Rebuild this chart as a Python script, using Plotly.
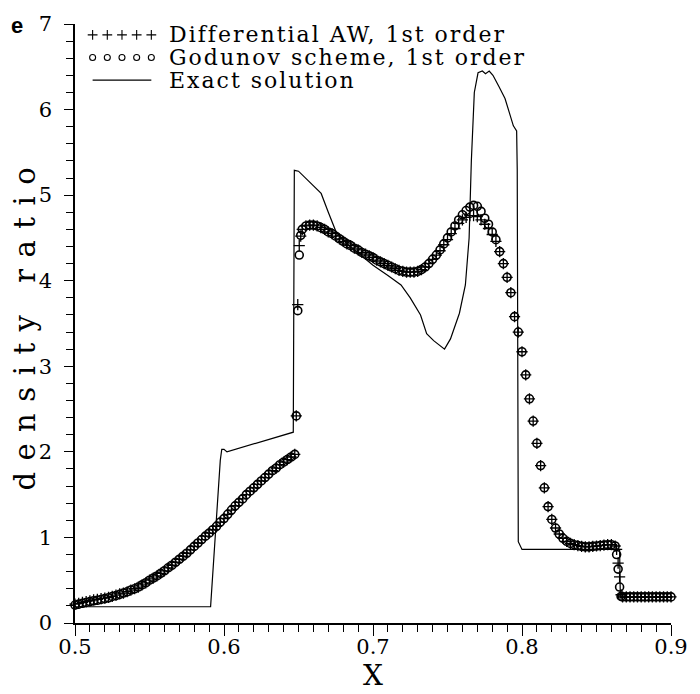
import plotly.graph_objects as go

# ---------------- data ----------------
num_x = [
    0.5, 0.5025, 0.505, 0.5075, 0.51, 0.5125, 0.515, 0.5175, 0.52, 0.5225,
    0.525, 0.5275, 0.53, 0.5325, 0.535, 0.5375, 0.54, 0.5425, 0.545, 0.5475,
    0.55, 0.5525, 0.555, 0.5575, 0.56, 0.5625, 0.565, 0.5675, 0.57, 0.5725,
    0.575, 0.5775, 0.58, 0.5825, 0.585, 0.5875, 0.59, 0.5925, 0.595, 0.5975,
    0.6, 0.6025, 0.605, 0.6075, 0.61, 0.6125, 0.615, 0.6175, 0.62, 0.6225,
    0.625, 0.6275, 0.63, 0.6325, 0.635, 0.6375, 0.64, 0.6425, 0.645, 0.6475,
    0.6485, 0.6495, 0.6505, 0.6515, 0.6525,
    0.655, 0.6575, 0.66, 0.6625, 0.665, 0.6675, 0.67, 0.6725, 0.675, 0.6775,
    0.68, 0.6825, 0.685, 0.6875, 0.69, 0.6925, 0.695, 0.6975, 0.7, 0.7025,
    0.705, 0.7075, 0.71, 0.7125, 0.715, 0.7175, 0.72, 0.7225, 0.725, 0.7275,
    0.73, 0.7325, 0.735, 0.7375, 0.74, 0.7425, 0.745, 0.7475, 0.75, 0.7525,
    0.755, 0.7575, 0.76, 0.7625, 0.765, 0.7675, 0.77, 0.7725, 0.775, 0.7775,
    0.78, 0.7825, 0.785, 0.7875, 0.79, 0.7925, 0.795, 0.7975, 0.8, 0.8025,
    0.805, 0.8075, 0.81, 0.8125, 0.815, 0.8175, 0.82, 0.8225, 0.825, 0.8275,
    0.83, 0.8325, 0.835, 0.8375, 0.84, 0.8425, 0.845, 0.8475, 0.85, 0.8525,
    0.855, 0.8575, 0.86, 0.8625, 0.8635, 0.8645, 0.8655, 0.8665,
    0.8675, 0.87, 0.8725, 0.875, 0.8775, 0.88, 0.8825, 0.885, 0.8875, 0.89,
    0.8925, 0.895, 0.8975, 0.9,
]

godunov_y = [
    0.21, 0.22, 0.23, 0.24, 0.25, 0.26, 0.265, 0.275, 0.285, 0.295,
    0.31, 0.32, 0.335, 0.35, 0.365, 0.385, 0.40, 0.42, 0.445, 0.47,
    0.50, 0.525, 0.55, 0.58, 0.61, 0.645, 0.675, 0.71, 0.745, 0.78,
    0.815, 0.855, 0.895, 0.935, 0.975, 1.015, 1.05, 1.09, 1.13, 1.18,
    1.22, 1.27, 1.32, 1.37, 1.41, 1.45, 1.50, 1.54, 1.58, 1.62,
    1.66, 1.70, 1.74, 1.78, 1.81, 1.85, 1.88, 1.91, 1.94, 1.97,
    2.42, 3.65, 4.30, 4.53, 4.60,
    4.64, 4.65, 4.65, 4.64, 4.62, 4.60, 4.57, 4.55, 4.52, 4.49,
    4.46, 4.43, 4.41, 4.38, 4.36, 4.33, 4.31, 4.29, 4.27, 4.24,
    4.22, 4.20, 4.18, 4.16, 4.14, 4.12, 4.11, 4.10, 4.10, 4.10,
    4.11, 4.13, 4.16, 4.20, 4.25, 4.30, 4.36, 4.43, 4.50, 4.57,
    4.64, 4.71, 4.77, 4.82, 4.86, 4.88, 4.87, 4.81, 4.73, 4.66,
    4.57, 4.48, 4.34, 4.20, 4.04, 3.86, 3.58, 3.40, 3.17, 2.90,
    2.62, 2.36, 2.10, 1.84, 1.58, 1.36, 1.21, 1.11, 1.04, 0.99,
    0.955, 0.93, 0.915, 0.905, 0.895, 0.89, 0.89, 0.895, 0.90, 0.905,
    0.91, 0.915, 0.915, 0.90, 0.80, 0.63, 0.42, 0.31,
    0.305, 0.305, 0.305, 0.305, 0.305, 0.305, 0.305, 0.305, 0.305, 0.305,
    0.305, 0.305, 0.305, 0.305,
]

aw_y = [
    0.22, 0.23, 0.24, 0.25, 0.26, 0.27, 0.275, 0.285, 0.29, 0.30,
    0.31, 0.325, 0.34, 0.35, 0.365, 0.385, 0.40, 0.42, 0.445, 0.47,
    0.50, 0.525, 0.55, 0.58, 0.61, 0.645, 0.675, 0.71, 0.745, 0.78,
    0.815, 0.855, 0.895, 0.935, 0.975, 1.015, 1.05, 1.09, 1.13, 1.18,
    1.22, 1.27, 1.32, 1.37, 1.41, 1.45, 1.50, 1.54, 1.58, 1.62,
    1.66, 1.70, 1.74, 1.78, 1.81, 1.85, 1.88, 1.91, 1.94, 1.97,
    2.42, 3.72, 4.41, 4.52, 4.60,
    4.64, 4.65, 4.65, 4.64, 4.62, 4.60, 4.57, 4.55, 4.52, 4.49,
    4.46, 4.43, 4.41, 4.38, 4.36, 4.33, 4.31, 4.29, 4.27, 4.24,
    4.22, 4.20, 4.18, 4.16, 4.14, 4.12, 4.11, 4.10, 4.10, 4.10,
    4.11, 4.13, 4.16, 4.20, 4.25, 4.30, 4.35, 4.42, 4.48, 4.55,
    4.61, 4.67, 4.71, 4.74, 4.76, 4.76, 4.75, 4.71, 4.66, 4.61,
    4.54, 4.46, 4.34, 4.20, 4.04, 3.86, 3.58, 3.40, 3.17, 2.90,
    2.62, 2.36, 2.10, 1.84, 1.58, 1.36, 1.21, 1.11, 1.04, 0.99,
    0.955, 0.93, 0.915, 0.905, 0.895, 0.89, 0.89, 0.895, 0.90, 0.905,
    0.91, 0.915, 0.915, 0.90, 0.86, 0.70, 0.54, 0.33,
    0.305, 0.305, 0.305, 0.305, 0.305, 0.305, 0.305, 0.305, 0.305, 0.305,
    0.305, 0.305, 0.305, 0.305,
]

exact_x = [0.5, 0.591, 0.5975, 0.5985, 0.600, 0.602, 0.6465, 0.6472, 0.650,
           0.656, 0.663, 0.6652, 0.670, 0.675, 0.680, 0.690, 0.700, 0.710,
           0.7188, 0.725, 0.7319, 0.736, 0.7407, 0.748, 0.752, 0.758, 0.762,
           0.7645, 0.766, 0.768, 0.7705, 0.7734, 0.7755, 0.778, 0.7805,
           0.7845, 0.7886, 0.7942, 0.7964, 0.7968, 0.7975, 0.800, 0.8655,
           0.866, 0.9]
exact_y = [0.19, 0.19, 1.90, 2.03, 2.03, 2.00, 2.23, 5.29, 5.28,
           5.18, 5.06, 5.02, 4.80, 4.58, 4.47, 4.32, 4.18, 4.06,
           3.95, 3.80, 3.60, 3.38, 3.30, 3.20, 3.32, 3.62, 3.95,
           4.50, 5.40, 6.20, 6.43, 6.45, 6.42, 6.45, 6.40,
           6.27, 6.13, 5.81, 5.75, 5.30, 0.95, 0.86, 0.86,
           0.30, 0.30]

x_ticks = [0.5, 0.6, 0.7, 0.8, 0.9]
x_tick_text = ["0.5", "0.6", "0.7", "0.8", "0.9"]
y_ticks = [0, 1, 2, 3, 4, 5, 6, 7]
y_tick_text = ["0", "1", "2", "3", "4", "5", "6", "7"]

legend_labels = ["Differential AW, 1st order", "Godunov scheme, 1st order", "Exact solution"]

# ---------------- figure ----------------
W, H = 700, 694
L, R, T, B = 75, 16, 15, 71
PW, PH = W - L - R, H - T - B


def px(xp):
    return (xp - L) / PW


def py(yp):
    return (H - B - yp) / PH


fig = go.Figure()

fig.add_trace(go.Scatter(
    x=num_x, y=godunov_y, mode="markers", name=legend_labels[1],
    marker=dict(symbol="circle-open", size=8, color="black", line=dict(width=1.6, color="black")),
    cliponaxis=False, showlegend=False))
fig.add_trace(go.Scatter(
    x=num_x, y=aw_y, mode="markers", name=legend_labels[0],
    marker=dict(symbol="cross-thin-open", size=8, color="black", line=dict(width=1.3, color="black")),
    cliponaxis=False, showlegend=False))
fig.add_trace(go.Scatter(
    x=exact_x, y=exact_y, mode="lines", name=legend_labels[2],
    line=dict(color="black", width=1.2), showlegend=False))

# overlay axes in pixel units for the hand-drawn legend samples
fig.add_trace(go.Scatter(
    x=[93, 108, 123, 138, 153], y=[26, 26, 26, 26, 26], xaxis="x2", yaxis="y2",
    mode="markers", marker=dict(symbol="cross-thin-open", size=7, color="black",
                                line=dict(width=1.1, color="black")),
    showlegend=False, hoverinfo="skip", cliponaxis=False))
fig.add_trace(go.Scatter(
    x=[93, 108, 123, 138, 153], y=[49, 49, 49, 49, 49], xaxis="x2", yaxis="y2",
    mode="markers", marker=dict(symbol="circle-open", size=6, color="black",
                                line=dict(width=1.1, color="black")),
    showlegend=False, hoverinfo="skip", cliponaxis=False))
fig.add_trace(go.Scatter(
    x=[93, 153], y=[72, 72], xaxis="x2", yaxis="y2", mode="lines",
    line=dict(color="black", width=1.2), showlegend=False, hoverinfo="skip",
    cliponaxis=False))

annos = []
for lab, yy in zip(legend_labels, [26, 49, 72]):
    annos.append(dict(x=px(169), y=py(yy), xref="paper", yref="paper",
                      text="<span style='letter-spacing:2px'>" + lab + "</span>",
                      showarrow=False, xanchor="left", yanchor="middle",
                      font=dict(family="DejaVu Serif", size=22, color="black")))
annos.append(dict(x=px(23), y=py(319), xref="paper", yref="paper",
                  text="<span style='letter-spacing:11.5px'>density ratio</span>",
                  textangle=-90, showarrow=False, xanchor="center", yanchor="middle",
                  font=dict(family="DejaVu Serif", size=29, color="black")))
annos.append(dict(x=px(379), y=py(676), xref="paper", yref="paper", text="X",
                  showarrow=False, xanchor="center", yanchor="middle",
                  font=dict(family="DejaVu Serif", size=28, color="black")))
annos.append(dict(x=px(16), y=py(17), xref="paper", yref="paper", text="<b>e</b>",
                  showarrow=False, xanchor="center", yanchor="middle",
                  font=dict(family="Liberation Sans", size=22, color="black")))

tick_font = dict(family="DejaVu Serif", size=21, color="black")

fig.update_layout(
    width=W, height=H,
    margin=dict(l=L, r=R, t=T, b=B, pad=0),
    paper_bgcolor="white", plot_bgcolor="white",
    showlegend=False,
    annotations=annos,
    xaxis=dict(range=[0.5, 0.9], tickvals=x_ticks, ticktext=x_tick_text,
               ticks="outside", ticklen=11, tickwidth=1.3, tickcolor="black",
               showline=True, linecolor="black", linewidth=1.5,
               showgrid=False, zeroline=False, tickfont=tick_font,
               ticklabelstandoff=-7, ticklabeloverflow="allow",
               minor=dict(dtick=0.01, tick0=0.5, ticks="outside", ticklen=7,
                          tickwidth=1.1, tickcolor="black", showgrid=False)),
    yaxis=dict(range=[0, 7], tickvals=y_ticks, ticktext=y_tick_text,
               ticks="outside", ticklen=9, tickwidth=1.3, tickcolor="black",
               showline=True, linecolor="black", linewidth=1.5,
               showgrid=False, zeroline=False, tickfont=tick_font,
               ticklabelstandoff=8, ticklabeloverflow="allow",
               minor=dict(dtick=0.2, tick0=0, ticks="outside", ticklen=7,
                          tickwidth=1.1, tickcolor="black", showgrid=False)),
    xaxis2=dict(overlaying="x", range=[L, W - R], visible=False, fixedrange=True),
    yaxis2=dict(overlaying="y", range=[H - B, T], visible=False, fixedrange=True),
)

fig.write_html("out.html", config={"displayModeBar": False},
               post_script="document.body.style.margin='0';document.body.style.padding='0';")
